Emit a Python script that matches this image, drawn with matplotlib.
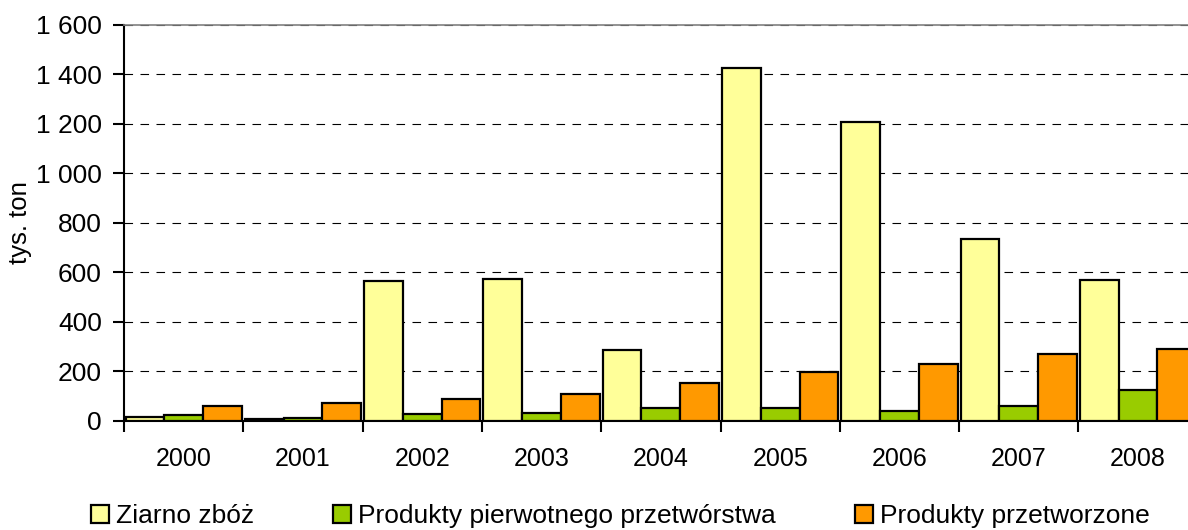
import numpy as np
import matplotlib.pyplot as plt
from matplotlib.ticker import FuncFormatter, FixedLocator

plt.rcParams['font.family'] = ['Liberation Sans', 'DejaVu Sans']

years = ['2000', '2001', '2002', '2003', '2004', '2005', '2006', '2007', '2008']
ziarno = [15, 7, 566, 575, 285, 1425, 1208, 734, 568]
pierwotne = [24, 11, 28, 31, 51, 53, 41, 61, 126]
przetworzone = [61, 72, 89, 109, 155, 199, 232, 269, 292]

series = [
    ('Ziarno zbóż', ziarno, '#FFFF99'),
    ('Produkty pierwotnego przetwórstwa', pierwotne, '#99CC00'),
    ('Produkty przetworzone', przetworzone, '#FF9900'),
]

fig = plt.figure(figsize=(11.88, 5.30), dpi=100)
# axes run a bit past the right edge, like the clipped original
ax = fig.add_axes([0.1044, 0.2057, 0.9038, 0.7472])

x = np.arange(len(years))
w = 0.325
for i, (name, vals, col) in enumerate(series):
    ax.bar(x + (i - 1) * w, vals, w, color=col, edgecolor='black',
           linewidth=1.6, label=name, zorder=3)

ax.set_xlim(-0.5, len(years) - 0.5)
ax.set_ylim(0, 1600)
ax.set_yticks(np.arange(0, 1601, 200))
ax.yaxis.set_major_formatter(FuncFormatter(lambda v, p: f'{v:,.0f}'.replace(',', ' ')))
ax.yaxis.grid(True, color='black', linestyle=(0, (7.7, 6.7)), linewidth=0.8, zorder=0)
ax.set_axisbelow(True)

ax.set_xticks(x)
ax.set_xticklabels(years)
ax.xaxis.set_minor_locator(FixedLocator(np.arange(-0.5, len(years), 1.0)))
ax.tick_params(axis='x', which='major', length=0, pad=19, labelsize=18)
ax.tick_params(axis='x', which='minor', length=8, width=1.5, direction='out')
ax.tick_params(axis='y', length=8, width=1.5, direction='out', pad=8, labelsize=19)

ax.spines['left'].set_linewidth(1.5)
ax.spines['bottom'].set_linewidth(1.5)
ax.spines['top'].set_color('#808080')
ax.spines['top'].set_linewidth(1.2)
ax.spines['right'].set_visible(False)

ax.set_ylabel('tys. ton', fontsize=18.5, labelpad=3)

fig.legend(loc='center', bbox_to_anchor=(0.522, 0.026), ncol=3, frameon=False,
           fontsize=19, handlelength=0.7, handleheight=0.7, handletextpad=0.25,
           columnspacing=3.0, borderpad=0)

fig.savefig('out.png', dpi=100)
